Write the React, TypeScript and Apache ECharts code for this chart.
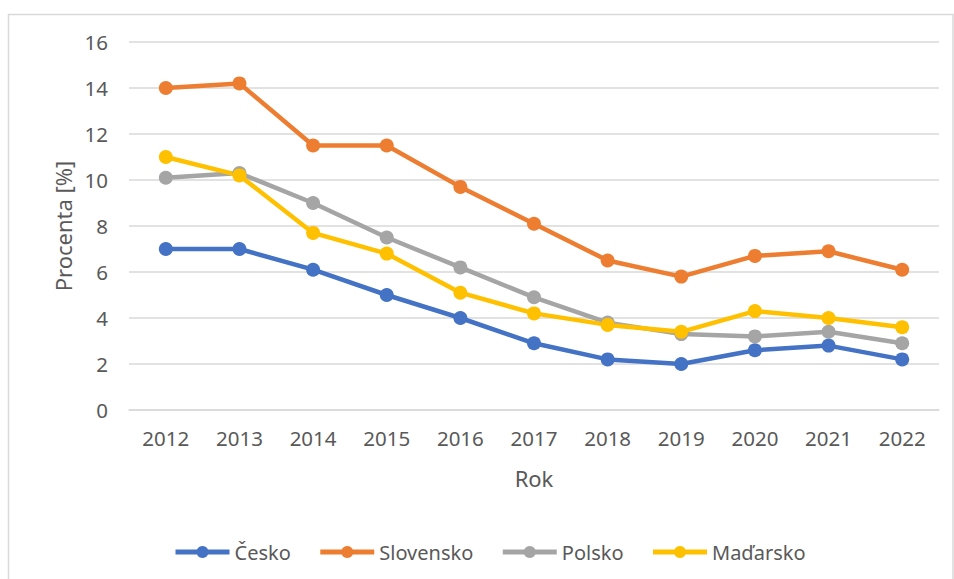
import React, { useEffect, useRef } from "react";
import * as echarts from "echarts";

const years = ["2012", "2013", "2014", "2015", "2016", "2017", "2018", "2019", "2020", "2021", "2022"];
const cesko = [7.0, 7.0, 6.1, 5.0, 4.0, 2.9, 2.2, 2.0, 2.6, 2.8, 2.2];
const slovensko = [14.0, 14.2, 11.5, 11.5, 9.7, 8.1, 6.5, 5.8, 6.7, 6.9, 6.1];
const polsko = [10.1, 10.3, 9.0, 7.5, 6.2, 4.9, 3.8, 3.3, 3.2, 3.4, 2.9];
const madarsko = [11.0, 10.2, 7.7, 6.8, 5.1, 4.2, 3.7, 3.4, 4.3, 4.0, 3.6];

const seriesNames = ["Česko", "Slovensko", "Polsko", "Maďarsko"];
const seriesData = [cesko, slovensko, polsko, madarsko];
const colors = ["#4472C4", "#ED7D31", "#A5A5A5", "#FFC000"];

const FONT = "'Noto Sans', 'Liberation Sans', sans-serif";
const TEXT = "#595959";

export default function App() {
  const ref = useRef<HTMLDivElement>(null);
  useEffect(() => {
    if (!ref.current) return;
    const chart = echarts.init(ref.current, null, { renderer: "svg" });
    chart.setOption({
      animation: false,
      backgroundColor: "#ffffff",
      textStyle: { fontFamily: FONT },
      graphic: [
        {
          type: "rect",
          shape: { x: 8.5, y: 14.5, width: 944.5, height: 575 },
          style: { fill: "none", stroke: "#D9D9D9", lineWidth: 1.5 },
          silent: true,
        },
      ],
      grid: { left: 129, right: 15, top: 42, bottom: 169, containLabel: false },
      legend: {
        data: seriesNames,
        left: 173,
        top: 542,
        padding: 0,
        itemWidth: 54,
        itemHeight: 15,
        itemGap: 27,
        lineStyle: { width: 5 },
        textStyle: { color: TEXT, fontSize: 20, fontFamily: FONT },
      },
      xAxis: {
        type: "category",
        data: years,
        boundaryGap: true,
        name: "Rok",
        nameLocation: "middle",
        nameGap: 57,
        nameTextStyle: { color: TEXT, fontSize: 22, fontFamily: FONT },
        axisLine: { show: true, lineStyle: { color: "#D9D9D9", width: 1.5 } },
        axisTick: { show: false },
        axisLabel: { color: TEXT, fontSize: 20.5, fontFamily: FONT, margin: 17 },
      },
      yAxis: {
        type: "value",
        min: 0,
        max: 16,
        interval: 2,
        name: "Procenta [%]",
        nameLocation: "middle",
        nameGap: 53,
        nameRotate: 90,
        nameTextStyle: { color: TEXT, fontSize: 22, fontFamily: FONT },
        axisLine: { show: false },
        axisTick: { show: false },
        axisLabel: { color: TEXT, fontSize: 20.5, fontFamily: FONT, margin: 21 },
        splitLine: { show: true, lineStyle: { color: "#D9D9D9", width: 1.5 } },
      },
      series: seriesNames.map((name, i) => ({
        name,
        type: "line",
        data: seriesData[i],
        symbol: "circle",
        symbolSize: 14,
        showSymbol: true,
        itemStyle: { color: colors[i] },
        lineStyle: { color: colors[i], width: 4.5 },
        emphasis: { disabled: true },
      })),
    });
    return () => chart.dispose();
  }, []);
  return (
    <div
      ref={ref}
      style={{ position: "fixed", left: 0, top: 0, width: 954, height: 579 }}
    />
  );
}
